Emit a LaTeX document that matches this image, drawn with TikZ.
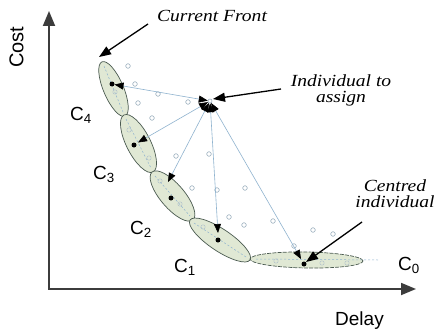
\documentclass[tikz,border=0pt]{standalone}
\usepackage{fontspec}
\setmainfont{Liberation Serif}
\setsansfont{Liberation Sans}
\newfontfamily\annfont[FakeStretch=1.15]{Liberation Serif}
\usetikzlibrary{arrows.meta}
\definecolor{clfill}{HTML}{E0E8D4}
\definecolor{cledge}{HTML}{4A5A50}
\definecolor{connc}{HTML}{8FB3CF}
\definecolor{ptc}{HTML}{8CA3B5}
\definecolor{axc}{HTML}{3C3C3C}
\begin{document}
\begin{tikzpicture}[x=1pt,y=-1pt,
  axisline/.style={draw=axc,line width=1.8pt,line join=miter,
    {Triangle[length=15pt,width=12pt]}-{Triangle[length=15pt,width=12pt]}},
  clus/.style={draw=cledge,fill=clfill,line width=0.7pt},
  axdash/.style={draw=connc,line width=0.5pt,dash pattern=on 2pt off 2pt},
  conn/.style={draw=connc,line width=0.6pt,
    {Triangle[length=9pt,width=7pt,color=black]}-{Triangle[length=9pt,width=7pt,color=black]}},
  ann/.style={draw=black,line width=1.3pt,-{Triangle[length=12pt,width=9pt]}},
  dotc/.style={circle,fill=black,inner sep=0pt,minimum size=5pt},
  ptout/.style={draw=ptc,line width=0.5pt},
  ptin/.style={draw=ptc!70,line width=0.4pt},
  itl/.style={font=\annfont\itshape\fontsize{17}{18}\selectfont,inner sep=0pt,anchor=base},
  lab/.style={font=\sffamily\fontsize{19}{22}\selectfont,inner sep=0pt,anchor=base west}]
\useasboundingbox[fill=white] (0,0) rectangle (436,329);

% axes
\coordinate (O) at (49,289);
\coordinate (ytip) at (49,11);
\coordinate (xtip) at (416,289);
\draw[axisline] (ytip) -- (O) -- (xtip);
\node[font=\sffamily\fontsize{20}{22}\selectfont,inner sep=0pt,rotate=90] (cost) at (16.5,47) {Cost};
\node[lab] (delay) at (335,325) {Delay};

% clusters
\coordinate (c4) at (113.5,89);
\coordinate (c3) at (138.5,143.5);
\coordinate (c2) at (172.5,196);
\coordinate (c1) at (220,240);
\coordinate (c0) at (306.5,260);
\draw[clus,rotate around={113:(c4)}] (c4) ellipse [x radius=29.5pt,y radius=10pt];
\draw[clus,rotate around={117:(c3)}] (c3) ellipse [x radius=32pt,y radius=12pt];
\draw[clus,rotate around={130.5:(c2)}] (c2) ellipse [x radius=31.5pt,y radius=12pt];
\draw[clus,rotate around={146.3:(c1)}] (c1) ellipse [x radius=36pt,y radius=11pt];
\draw[clus,dash pattern=on 4pt off 1.2pt,rotate around={-1:(c0)}] (c0) ellipse [x radius=56.5pt,y radius=8pt];

% faint axis lines inside clusters
\coordinate (a4a) at (104,66); \coordinate (a4b) at (123,112);
\coordinate (a3a) at (126,119); \coordinate (a3b) at (151,168);
\coordinate (a2a) at (155,176); \coordinate (a2b) at (190,216);
\coordinate (a1a) at (194,223); \coordinate (a1b) at (246,257);
\coordinate (a0a) at (256,259); \coordinate (a0b) at (378,260);
\draw[axdash] (a4a) -- (a4b);
\draw[axdash] (a3a) -- (a3b);
\draw[axdash] (a2a) -- (a2b);
\draw[axdash] (a1a) -- (a1b);
\draw[axdash] (a0a) -- (a0b);

% scattered individuals
\foreach \p in {(128,66),(135,84),(158,94),(138,103),(188,102),(152,118),(176,156),(209,154),
  (192,188),(217,190),(245,188),(229,217),(244,225),(273,221),(313,230),(333,234),(294,246)}
  \draw[ptout] \p circle[radius=2.3pt];
\foreach \p in {(115,92),(129,130),(149,158),(160,181),(180,204),(203,227),(276,261),(322,263),(347,263)}
  \draw[ptin] \p circle[radius=2.2pt];

% centroids
\node[dotc] (d4) at (112,84) {};
\node[dotc] (d3) at (134,145) {};
\node[dotc] (d2) at (171,198) {};
\node[dotc] (d1) at (218,240) {};
\node[dotc] (d0) at (304,264) {};

% arrow ends near centroids
\coordinate (t4) at (114.5,84.5);
\coordinate (t3) at (138,142.5);
\coordinate (t2) at (168,182);
\coordinate (t1) at (218,233);
\coordinate (t0) at (301,259);

% individual to assign
\node[circle,draw=ptc,fill=white,inner sep=0pt,minimum size=4pt,line width=0.5pt] (ind) at (210,101) {};
\draw[conn] (ind) -- (t4);
\draw[conn] (ind) -- (t3);
\draw[conn] (ind) -- (t2);
\draw[conn] (ind) -- (t1);
\draw[conn] (ind) -- (t0);

% cluster labels
\node[lab] (l4) at (70,120) {C\textsubscript{4}};
\node[lab] (l3) at (93,179) {C\textsubscript{3}};
\node[lab] (l2) at (130,234) {C\textsubscript{2}};
\node[lab] (l1) at (174,272) {C\textsubscript{1}};
\node[lab] (l0) at (398,270) {C\textsubscript{0}};

% annotations
\node[itl] (cf) at (212,22) {Current Front};
\node[itl] (ia1) at (341,86.5) {Individual to};
\node[itl] (ia2) at (341,102.5) {assign};
\node[itl] (ci1) at (395,191.5) {Centred};
\node[itl] (ci2) at (395,207.5) {individual};
\coordinate (cfs) at (148,24);
\coordinate (cft) at (99,57);
\coordinate (ias) at (281,89);
\coordinate (iat) at (213,99);
\coordinate (cis) at (362,222);
\coordinate (cit) at (306,262);
\draw[ann] (cfs) -- (cft);
\draw[ann] (ias) -- (iat);
\draw[ann] (cis) -- (cit);
\end{tikzpicture}
\end{document}
